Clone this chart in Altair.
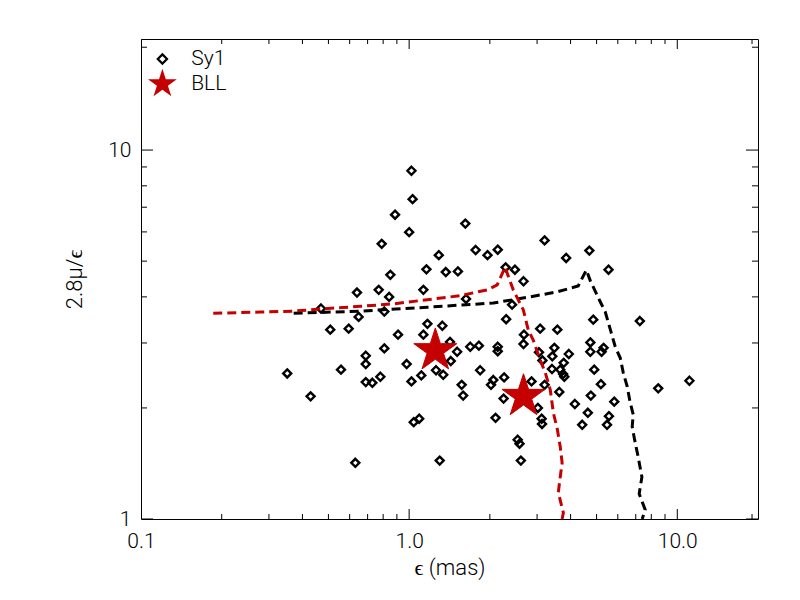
import altair as alt
import pandas as pd

# ---------------- data ----------------
sy1_x = [1.02, 1.03, 0.886, 1.00, 1.62, 0.790, 1.77, 1.96, 2.14, 1.29,
         1.16, 1.37, 1.52, 0.851, 2.29, 0.639, 0.770, 0.842, 1.13, 1.63,
         0.469, 0.808, 0.648, 1.17, 1.33, 2.30, 0.508, 0.595,
         0.909, 1.13, 0.808, 0.689, 0.689, 0.557, 0.351, 0.429, 0.979, 1.42,
         1.51, 1.43, 1.26, 1.34, 1.11, 1.02, 0.781, 0.689, 0.729, 1.69,
         1.82, 2.14, 2.14, 1.84, 1.57, 1.59, 2.06, 2.02, 2.26, 2.25,
         2.10, 1.04, 1.09, 0.630, 1.30,
         3.20, 4.70, 3.85, 5.54, 2.48, 2.67, 2.42, 4.86, 7.25, 3.08,
         3.57, 2.68, 2.67, 3.05, 3.48, 3.42, 3.94, 4.74, 4.74, 5.31,
         5.22, 3.14, 3.77, 3.41, 3.66, 3.75, 3.79, 4.90, 2.86, 3.20,
         3.63, 5.19, 8.49, 11.1, 4.76, 3.02, 4.15, 5.82, 3.12, 3.13,
         4.64, 5.56, 4.42, 5.47, 2.54, 2.58, 2.61]
sy1_y = [8.79, 7.36, 6.68, 5.99, 6.32, 5.57, 5.36, 5.19, 5.37, 5.19,
         4.75, 4.67, 4.69, 4.59, 4.81, 4.11, 4.18, 4.00, 4.18, 3.95,
         3.72, 3.65, 3.53, 3.38, 3.34, 3.48, 3.26, 3.28,
         3.16, 3.16, 2.90, 2.77, 2.63, 2.54, 2.48, 2.15, 2.63, 3.02,
         2.84, 2.68, 2.53, 2.46, 2.45, 2.36, 2.43, 2.35, 2.34, 2.93,
         2.95, 2.93, 2.85, 2.53, 2.31, 2.16, 2.38, 2.31, 2.42, 2.12,
         1.88, 1.83, 1.87, 1.42, 1.44,
         5.69, 5.34, 5.10, 4.74, 4.74, 4.41, 3.81, 3.47, 3.44, 3.28,
         3.26, 3.16, 2.98, 2.83, 2.91, 2.76, 2.80, 3.01, 2.84, 2.91,
         2.84, 2.69, 2.65, 2.55, 2.54, 2.47, 2.43, 2.54, 2.36, 2.31,
         2.21, 2.32, 2.26, 2.37, 2.16, 2.00, 2.05, 2.08, 1.87, 1.81,
         1.94, 1.90, 1.80, 1.80, 1.64, 1.60, 1.44]

bll_x = [1.252, 2.67]
bll_y = [2.86, 2.15]

black_x = [0.371, 0.658, 1.169, 2.06, 2.83, 3.57, 4.27, 4.58, 4.74, 5.16,
           5.39, 5.67, 5.87, 6.13, 6.29, 6.51, 6.67, 6.85, 6.79, 6.91,
           7.15, 7.38, 7.21, 7.59, 7.40]
black_y = [3.61, 3.66, 3.75, 3.85, 4.00, 4.13, 4.28, 4.73, 4.42, 3.88,
           3.64, 3.20, 2.93, 2.73, 2.49, 2.28, 2.07, 1.92, 1.78, 1.66,
           1.47, 1.30, 1.17, 1.06, 1.00]

red_x = [0.186, 0.279, 0.370, 0.496, 0.658, 0.873, 1.169, 1.551, 1.957, 2.13,
         2.28, 2.34, 2.445, 2.55, 2.665, 2.78, 2.90, 3.08, 3.22, 3.36,
         3.45, 3.57, 3.66, 3.72, 3.66, 3.60, 3.76, 3.72]
red_y = [3.61, 3.64, 3.66, 3.72, 3.77, 3.83, 3.93, 4.03, 4.18, 4.31,
         4.82, 4.56, 4.18, 3.93, 3.69, 3.26, 3.06, 2.70, 2.49, 2.24,
         1.94, 1.75, 1.57, 1.42, 1.30, 1.18, 1.04, 1.00]

x_major = [0.1, 1, 10]
x_minor = [0.2, 0.3, 0.4, 0.5, 0.6, 0.7, 0.8, 0.9, 2, 3, 4, 5, 6, 7, 8, 9, 19]
y_major = [1, 10]
y_minor = [2, 3, 4, 5, 6, 7, 8, 9, 19]

types = ["Sy1", "BLL"]

# ---------------- styling ----------------
RED = "#c40000"
FONT = "Roboto"
STAR = ("M0,-1L0.2245,-0.309L0.9511,-0.309L0.3633,0.118L0.5878,0.809L0,0.382"
        "L-0.5878,0.809L-0.3633,0.118L-0.9511,-0.309L-0.2245,-0.309Z")
DIAMOND = "M0,-0.4L0.4,0L0,0.4L-0.4,0Z"

xscale = alt.Scale(type="log", domain=[0.1, 20], nice=False)
yscale = alt.Scale(type="log", domain=[1, 20], nice=False)

xaxis = alt.Axis(values=x_major, format=".1f", title="\u03f5 (mas)",
                 titleX=308.5, titleY=48, titleBaseline="middle", titleAlign="center",
                 labelPadding=11, labelFlush=False, labelOverlap=False)
yaxis = alt.Axis(values=y_major, format="d", title="2.8\u03bc/\u03f5",
                 titleX=-67, titleY=240, titleBaseline="middle", titleAlign="center",
                 titleAngle=270, labelPadding=10, labelOverlap=False)

leg = alt.Legend(title=None, orient="none", legendX=8.4, legendY=7)
shape_scale = alt.Scale(domain=types, range=[DIAMOND, STAR])
fill_scale = alt.Scale(domain=types, range=["transparent", RED])
stroke_scale = alt.Scale(domain=types, range=["black", RED])

sy1_df = pd.DataFrame({"x": sy1_x, "y": sy1_y, "type": "Sy1"})
bll_df = pd.DataFrame({"x": bll_x, "y": bll_y, "type": "BLL"})


def point_enc(chart):
    return chart.encode(
        x=alt.X("x:Q", scale=xscale, axis=xaxis),
        y=alt.Y("y:Q", scale=yscale, axis=yaxis),
        shape=alt.Shape("type:N", scale=shape_scale, legend=leg),
        fill=alt.Fill("type:N", scale=fill_scale, legend=leg),
        stroke=alt.Stroke("type:N", scale=stroke_scale, legend=leg),
    )


sy1_layer = point_enc(alt.Chart(sy1_df).mark_point(size=400, strokeWidth=2.4, opacity=1))
bll_layer = point_enc(alt.Chart(bll_df).mark_point(size=2043, strokeWidth=1, opacity=1))


def curve(xs, ys, color):
    df = pd.DataFrame({"x": xs, "y": ys, "i": list(range(len(xs)))})
    return alt.Chart(df).mark_line(color=color, strokeDash=[9, 5], strokeWidth=3,
                                   clip=True).encode(
        x=alt.X("x:Q", scale=xscale, axis=xaxis),
        y=alt.Y("y:Q", scale=yscale, axis=yaxis),
        order="i:Q",
    )


def xticks(vals, ypos, size):
    df = pd.DataFrame({"v": vals})
    return alt.Chart(df).mark_tick(orient="vertical", size=size, thickness=1,
                                   color="black", opacity=1, clip=True).encode(
        x=alt.X("v:Q", scale=xscale, axis=xaxis),
        y=alt.YDatum(ypos, type="quantitative", scale=yscale, axis=yaxis),
    )


def yticks(vals, xpos, size):
    df = pd.DataFrame({"v": vals})
    return alt.Chart(df).mark_tick(orient="horizontal", size=size, thickness=1,
                                   color="black", opacity=1, clip=True).encode(
        x=alt.XDatum(xpos, type="quantitative", scale=xscale, axis=xaxis),
        y=alt.Y("v:Q", scale=yscale, axis=yaxis),
    )


chart = alt.layer(
    sy1_layer,
    curve(black_x, black_y, "black"),
    curve(red_x, red_y, RED),
    bll_layer,
    xticks(x_major, 1, 20), xticks(x_minor, 1, 10),
    xticks(x_major, 20, 20), xticks(x_minor, 20, 10),
    yticks(y_major, 0.1, 24), yticks(y_minor, 0.1, 12),
    yticks(y_major, 20, 24), yticks(y_minor, 20, 12),
).properties(
    width=617, height=480,
    autosize=alt.AutoSizeParams(type="none"),
    padding={"left": 133, "top": 31, "right": 34, "bottom": 73},
    background="white",
).configure_view(
    stroke="black", strokeWidth=1
).configure_axis(
    tickSize=0, domain=False, grid=False,
    labelFont=FONT, labelFontSize=21, labelFontWeight=300, labelColor="black",
    titleFont=FONT, titleFontSize=22, titleFontWeight=300, titleColor="black",
).configure_legend(
    symbolSize=535, symbolStrokeWidth=2.2, labelFont=FONT, labelFontSize=21,
    labelFontWeight=300, labelColor="black", labelOffset=15.8, rowPadding=-1,
    padding=0, symbolOpacity=1,
)

chart.save("out.html", embed_options={"renderer": "svg", "actions": False})
